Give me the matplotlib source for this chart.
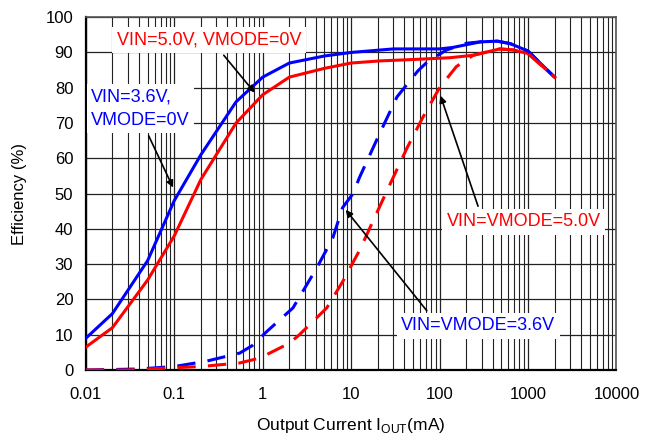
import matplotlib
matplotlib.use("Agg")
import matplotlib.pyplot as plt
from matplotlib.ticker import FixedLocator, LogLocator, NullFormatter

plt.rcParams['font.family'] = ['Liberation Sans', 'DejaVu Sans']

# VIN=3.6V, VMODE=0V (blue solid)
i_blue = [0.01, 0.02, 0.05, 0.1, 0.2, 0.5, 1, 2, 5, 10, 30, 100, 140, 290, 450, 630, 1000, 2000]
eff_blue = [9, 16, 31, 48, 61, 76, 83, 87, 89, 90, 91, 91, 91.4, 93, 93.2, 92.5, 90.4, 83]

# VIN=5.0V, VMODE=0V (red solid)
i_red = [0.01, 0.02, 0.05, 0.1, 0.2, 0.5, 1, 2, 5, 10, 21, 50, 130, 240, 480, 680, 1000, 2000]
eff_red = [6.5, 12, 25.5, 38, 54, 70, 78, 83, 85.5, 87, 87.6, 88, 88.5, 89.2, 91, 90.7, 89.7, 83]

# VIN=VMODE=3.6V (blue dashed)
i_blue_d = [0.01, 0.04, 0.1, 0.23, 0.55, 0.77, 1.1, 2.2, 4.1, 6.2, 8, 10.5, 12.5, 21, 33, 57,
            74, 120, 200, 290, 450, 630, 1000, 2000]
eff_blue_d = [0, 0.3, 1, 2.5, 4.8, 7, 10.8, 17.6, 29, 37.4, 46, 50, 54.7, 67, 77.4, 84.8,
              87.5, 90.7, 92.6, 93, 93.2, 92.5, 90.4, 83]

# VIN=VMODE=5.0V (red dashed)
i_red_d = [0.01, 0.03, 0.075, 0.2, 0.55, 0.93, 2, 2.6, 5.3, 8, 12.5, 25, 43, 65, 100, 155,
           240, 480, 680, 1000, 2000]
eff_red_d = [0, 0, 0.5, 1, 2, 3.4, 7.6, 10, 17.6, 25, 34, 50.4, 63, 71.7, 80, 86,
             89.2, 91, 90.7, 89.7, 83]

x_ticks = [0.01, 0.1, 1, 10, 100, 1000, 10000]
x_labels = ["0.01", "0.1", "1", "10", "100", "1000", "10000"]
y_ticks = list(range(0, 101, 10))

BLUE = "#0000FF"
RED = "#FF0000"

fig = plt.figure(figsize=(6.6, 4.4), dpi=100)
ax = fig.add_axes([0.130, 0.159, 0.804, 0.802])

ax.plot(i_blue, eff_blue, color=BLUE, lw=2.2, zorder=4)
ax.plot(i_red, eff_red, color=RED, lw=2.2, zorder=4)
ax.plot(i_blue_d, eff_blue_d, color=BLUE, lw=2.2, ls=(0, (6, 4)), zorder=4)
ax.plot(i_red_d, eff_red_d, color=RED, lw=2.2, ls=(0, (6, 4)), zorder=4)

ax.set_xscale("log")
ax.set_xlim(0.01, 10000)
ax.set_ylim(0, 100)
ax.xaxis.set_major_locator(FixedLocator(x_ticks))
ax.set_xticklabels(x_labels)
ax.xaxis.set_minor_locator(LogLocator(base=10, subs=range(2, 10), numticks=20))
ax.xaxis.set_minor_formatter(NullFormatter())
ax.set_yticks(y_ticks)

ax.grid(True, which="major", color="#222222", lw=0.9)
ax.grid(True, which="minor", axis="x", color="#222222", lw=0.8)
ax.tick_params(which="both", length=0, labelsize=12)
ax.tick_params(axis="y", pad=9)
ax.tick_params(axis="x", pad=12)
for s in ["left", "bottom"]:
    ax.spines[s].set_linewidth(1.6)
    ax.spines[s].set_color("black")
for s in ["top", "right"]:
    ax.spines[s].set_linewidth(1.2)
    ax.spines[s].set_color("#555555")

ax.set_ylabel("Efficiency (%)", fontsize=12, labelpad=13)
ax.set_xlabel(r"Output Current I$_{\mathregular{OUT}}$(mA)", fontsize=12.5, labelpad=10)

box = dict(boxstyle="square,pad=0.25", facecolor="white", edgecolor="none")
arrow = dict(arrowstyle="-|>", color="black", lw=1.2, mutation_scale=10)

ax.annotate("VIN=5.0V, VMODE=0V", xy=(0.85, 78), xytext=(0.0224, 93.5),
            color=RED, fontsize=13, ha="left", va="center", bbox=box,
            arrowprops=dict(arrow, relpos=(0.55, 0.0)), zorder=6)
ax.annotate("VIN=3.6V,\nVMODE=0V", xy=(0.1, 51), xytext=(0.0115, 74),
            color=BLUE, fontsize=13, ha="left", va="center", bbox=box,
            linespacing=1.45, arrowprops=dict(arrow, relpos=(0.55, 0.0)), zorder=6)
ax.annotate("VIN=VMODE=5.0V", xy=(100, 78.5), xytext=(120, 42),
            color=RED, fontsize=13, ha="left", va="center", bbox=box,
            arrowprops=dict(arrow, relpos=(0.22, 1.0)), zorder=6)
ax.annotate("VIN=VMODE=3.6V", xy=(8.3, 46), xytext=(37, 12.5),
            color=BLUE, fontsize=13, ha="left", va="center", bbox=box,
            arrowprops=dict(arrow, relpos=(0.2, 1.0)), zorder=6)

fig.savefig("out.png", dpi=100)
